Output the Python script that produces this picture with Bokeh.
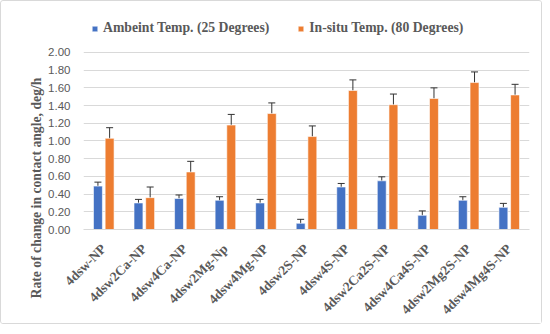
from bokeh.plotting import figure
from bokeh.models import ColumnDataSource, Range1d, FactorRange, Whisker, TeeHead, Legend, LegendItem, Title
from bokeh.transform import dodge
from bokeh.embed import file_html
from bokeh.resources import INLINE
import math

categories = ["4dsw-NP", "4dsw2Ca-NP", "4dsw4Ca-NP", "4dsw2Mg-Np", "4dsw4Mg-NP", "4dsw2S-NP",
              "4dsw4S-NP", "4dsw2Ca2S-NP", "4dsw4Ca4S-NP", "4dsw2Mg2S-NP", "4dsw4Mg4S-NP"]
ambient = [0.49, 0.30, 0.35, 0.33, 0.30, 0.07, 0.48, 0.55, 0.16, 0.33, 0.25]
ambient_err = [0.045, 0.04, 0.04, 0.04, 0.04, 0.045, 0.04, 0.045, 0.05, 0.04, 0.045]
insitu = [1.03, 0.36, 0.65, 1.18, 1.31, 1.05, 1.57, 1.41, 1.48, 1.66, 1.52]
insitu_err = [0.12, 0.12, 0.12, 0.12, 0.12, 0.12, 0.12, 0.12, 0.12, 0.12, 0.12]
y_ticks = [0.0, 0.2, 0.4, 0.6, 0.8, 1.0, 1.2, 1.4, 1.6, 1.8, 2.0]

src = ColumnDataSource(dict(
    cats=categories,
    amb=ambient,
    amb_up=[v + e for v, e in zip(ambient, ambient_err)],
    amb_lo=[v - e for v, e in zip(ambient, ambient_err)],
    ins=insitu,
    ins_up=[v + e for v, e in zip(insitu, insitu_err)],
    ins_lo=[v - e for v, e in zip(insitu, insitu_err)],
))

BLUE = "#4472C4"
ORANGE = "#ED7D31"
SERIF = "Liberation Serif"
GREY = "#595959"

p = figure(width=542, height=324, x_range=FactorRange(*categories), y_range=Range1d(0, 2.44),
           output_backend="svg", toolbar_location=None,
           min_border_left=82, min_border_right=14, min_border_top=12, min_border_bottom=90)
p.styles = {"border": "1px solid #d9d9d9", "border-radius": "3px"}
p.outline_line_color = None
p.x_range.range_padding = 0

off = 0.144
w = 0.22
r1 = p.vbar(x=dodge("cats", -off, range=p.x_range), top="amb", width=w, source=src,
            fill_color=BLUE, line_color="white", line_width=0.6)
r2 = p.vbar(x=dodge("cats", off, range=p.x_range), top="ins", width=w, source=src,
            fill_color=ORANGE, line_color="white", line_width=0.6)

for base, up, lo in [(-off, "amb_up", "amb_lo"), (off, "ins_up", "ins_lo")]:
    wk = Whisker(base=dodge("cats", base, range=p.x_range), upper=up, lower=lo, source=src,
                 line_color="#333333", line_width=1,
                 upper_head=TeeHead(size=7, line_color="#333333", line_width=1),
                 lower_head=TeeHead(size=7, line_color="#333333", line_width=1))
    p.add_layout(wk)

p.xgrid.grid_line_color = None
p.ygrid.grid_line_color = "#d9d9d9"
p.ygrid.ticker = y_ticks
p.yaxis.ticker = y_ticks
p.yaxis.major_label_overrides = {t: f"{t:.2f}" for t in y_ticks}
p.yaxis.axis_line_color = None
p.yaxis.major_tick_line_color = None
p.yaxis.minor_tick_line_color = None
p.yaxis.major_label_text_font = "Liberation Sans"
p.yaxis.major_label_text_font_size = "11.5px"
p.yaxis.major_label_text_color = GREY
p.yaxis.major_label_standoff = 7

p.xaxis.axis_line_color = "#d9d9d9"
p.xaxis.major_tick_line_color = None
p.xaxis.minor_tick_line_color = None
p.xaxis.major_label_orientation = math.pi / 4
p.xaxis.major_label_text_font = SERIF
p.xaxis.major_label_text_font_style = "bold"
p.xaxis.major_label_text_font_size = "13.5px"
p.xaxis.major_label_text_color = GREY
p.xaxis.major_label_standoff = 11

ytitle = Title(text="Rate of change in contact angle, deg/h", align="left", offset=-69,
               text_font=SERIF, text_font_style="bold", text_font_size="13.7px",
               text_color=GREY, standoff=4)
p.add_layout(ytitle, "left")

legend = Legend(items=[LegendItem(label="Ambeint Temp. (25 Degrees)", renderers=[r1]),
                       LegendItem(label="In-situ Temp. (80 Degrees)", renderers=[r2])],
                orientation="horizontal", location=(8, 193),
                label_text_font=SERIF, label_text_font_style="bold",
                label_text_font_size="13.7px", label_text_color=GREY,
                glyph_width=7, glyph_height=7, label_standoff=5, spacing=28,
                padding=4, margin=0, border_line_color=None, background_fill_alpha=0)
p.add_layout(legend, "center")

open("out.html", "w").write(file_html(p, INLINE))
